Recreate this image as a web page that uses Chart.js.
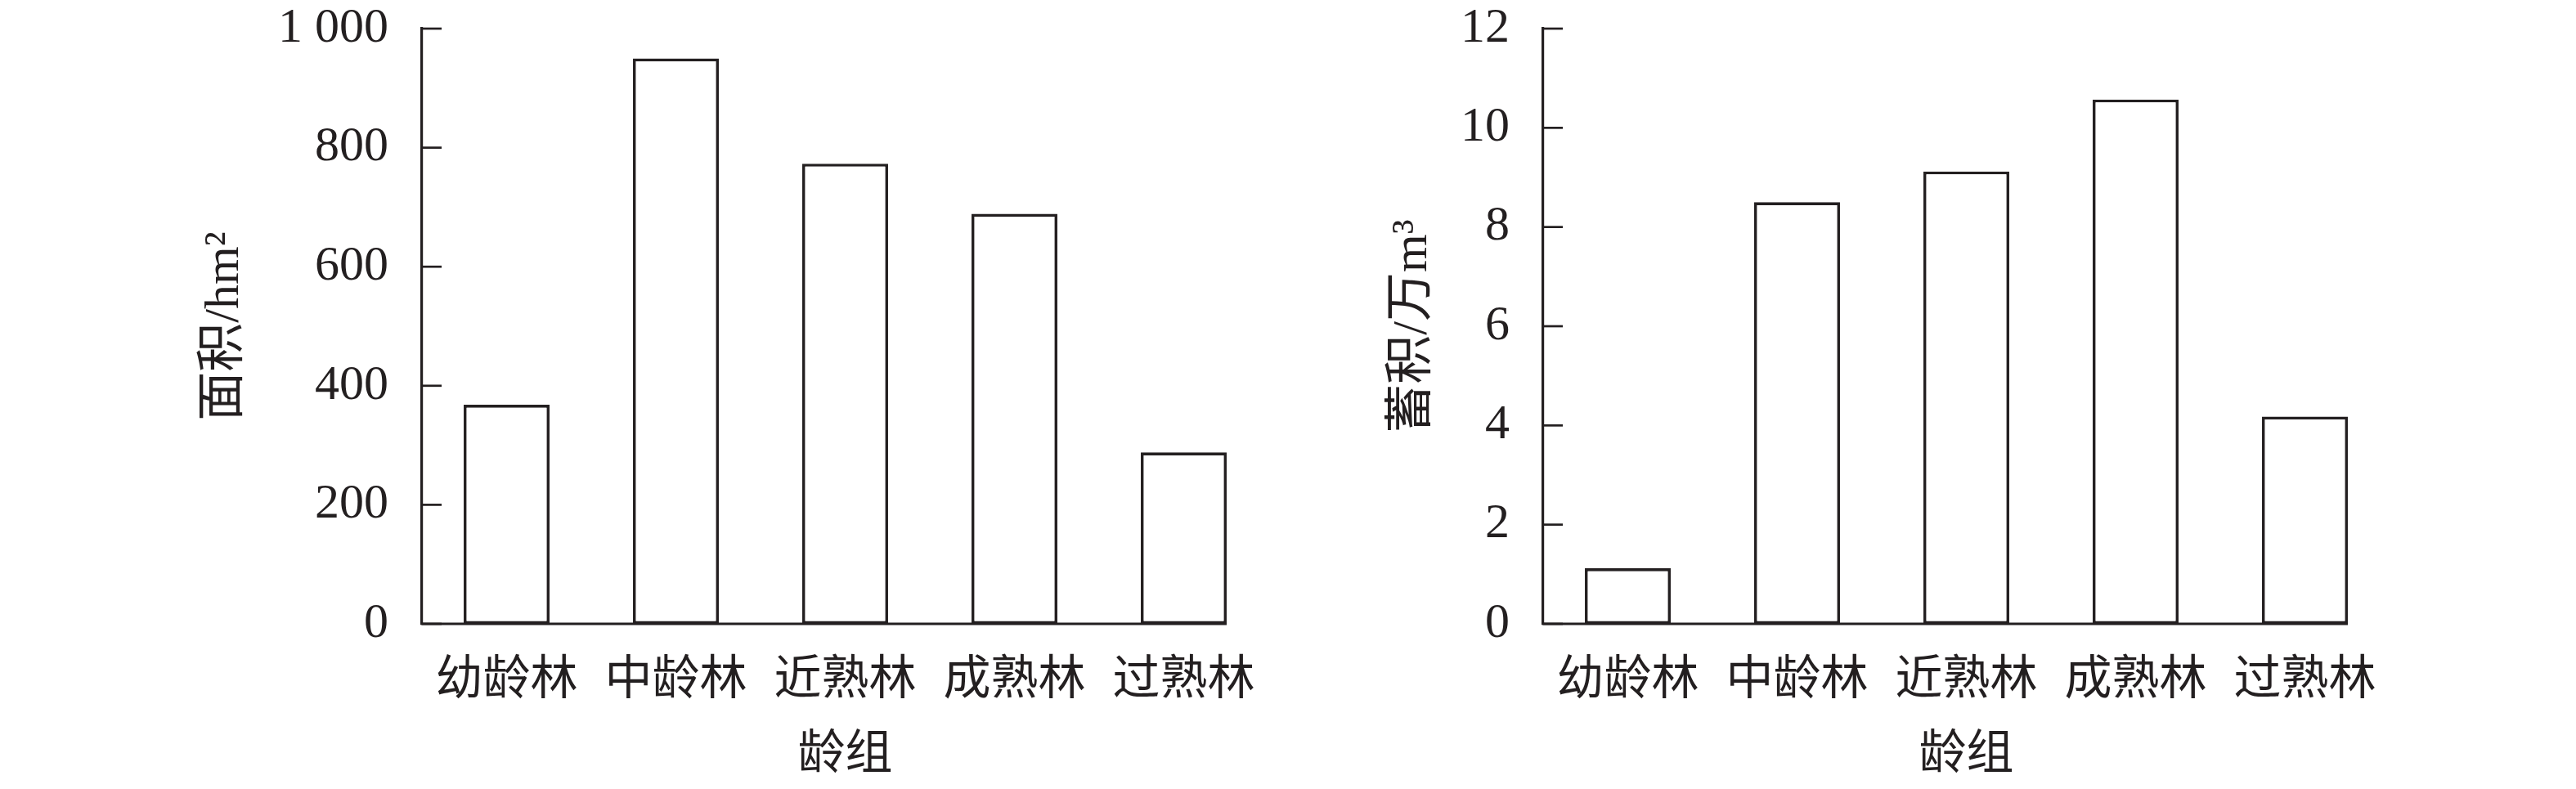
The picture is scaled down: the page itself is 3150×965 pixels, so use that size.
<!DOCTYPE html>
<html>
<head>
<meta charset="utf-8">
<script src="https://cdn.jsdelivr.net/npm/chart.js@4"></script>
<style>
  html, body { margin: 0; padding: 0; background: #fff; }
  #wrap { position: relative; width: 3150px; height: 965px; background: #fff; }
  #wrap canvas { position: absolute; top: 0; }
</style>
</head>
<body>
<div id="wrap">
  <canvas id="area-chart" width="1600" height="965" style="left:0"></canvas>
  <canvas id="volume-chart" width="1550" height="965" style="left:1600px"></canvas>
</div>
<script>
// data
const ageGroups = ['幼龄林', '中龄林', '近熟林', '成熟林', '过熟林'];
const areaValues = [368, 950, 773, 689, 288];          // 面积 hm²
const volumeValues = [1.12, 8.50, 9.12, 10.57, 4.18];  // 蓄积 万m³
const areaTicks = ['0', '200', '400', '600', '800', '1 000'];
const volumeTicks = ['0', '2', '4', '6', '8', '10', '12'];

const INK = '#231f20';
const FONT = '"Liberation Serif", "Noto Sans CJK SC", serif';

// inward tick marks on y axis + baseline that stops at the last bar
const axisMarks = {
  id: 'axisMarks',
  afterDraw(chart) {
    const { ctx, chartArea, scales } = chart;
    const y = scales.y;
    ctx.save();
    ctx.strokeStyle = INK;
    ctx.lineWidth = 2.7;
    y.ticks.forEach(t => {
      const py = y.getPixelForValue(t.value);
      ctx.beginPath();
      ctx.moveTo(chartArea.left, py);
      ctx.lineTo(chartArea.left + 24, py);
      ctx.stroke();
    });
    const bars = chart.getDatasetMeta(0).data;
    const last = bars[bars.length - 1];
    const y0 = y.getPixelForValue(0);
    ctx.lineWidth = 2.8;
    ctx.beginPath();
    ctx.moveTo(chartArea.left - 1.5, y0);
    ctx.lineTo(last.x + last.width / 2, y0);
    ctx.stroke();
    ctx.restore();
  }
};

function makeChart(id, values, tickLabels, max, step, yTitle, yWidth, titlePad, rightPad) {
  const ctx = document.getElementById(id).getContext('2d');
  return new Chart(ctx, {
    type: 'bar',
    data: {
      labels: ageGroups,
      datasets: [{
        data: values,
        backgroundColor: '#ffffff',
        borderColor: INK,
        borderWidth: 3.6,
        borderSkipped: false,
        barPercentage: 0.507,
        categoryPercentage: 1
      }]
    },
    options: {
      responsive: false,
      animation: false,
      devicePixelRatio: 1,
      layout: { padding: { top: 35, right: rightPad, bottom: 0, left: 0 } },
      plugins: { legend: { display: false }, tooltip: { enabled: false } },
      scales: {
        x: {
          offset: true,
          grid: { display: false, drawTicks: false },
          border: { display: false },
          ticks: {
            color: INK, padding: 36, maxRotation: 0, autoSkip: false,
            font: { family: FONT, size: 58, lineHeight: 1.2 }
          },
          title: {
            display: true, text: '龄组', color: INK,
            font: { family: FONT, size: 58, lineHeight: 1 },
            padding: { top: 0, bottom: 11 }
          },
          afterFit: s => { s.height = 202; }
        },
        y: {
          min: 0, max: max,
          grid: { display: false, drawTicks: false },
          border: { display: true, color: INK, width: 3.2 },
          ticks: {
            stepSize: step, color: INK, padding: 41,
            font: { family: FONT, size: 60, lineHeight: 1 },
            callback: (v, i) => tickLabels[i]
          },
          title: {
            display: true, text: yTitle, color: INK,
            font: { family: FONT, size: 60, lineHeight: 1 },
            padding: { top: titlePad, bottom: 0 }
          },
          // fixed axis width; the top label may overhang the padding
          afterFit: s => { s.width = yWidth; s.paddingTop = 0; s.paddingBottom = 0; }
        }
      }
    },
    plugins: [axisMarks]
  });
}

makeChart('area-chart', areaValues, areaTicks, 1000, 200, '面积/hm²', 516, 245, 49);
makeChart('volume-chart', volumeValues, volumeTicks, 12, 2, '蓄积/万m³', 287, 98, 228);
</script>
</body>
</html>
